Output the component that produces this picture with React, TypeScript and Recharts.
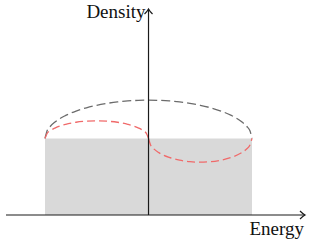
import {
  Area,
  ComposedChart,
  Line,
  ReferenceDot,
  ReferenceLine,
  XAxis,
  YAxis,
} from "recharts";

// energy axis: band edges at -1 and 1, density 1 = flat band top
const X_MIN = -1.377;
const X_MAX = 1.512;
const Y_MAX = 2.69;

const bandEnergy = [-1, 1];
const bandDensity = [1, 1];

const fullEnergy = [
  -1, -0.98, -0.95, -0.9, -0.8, -0.7, -0.6, -0.5, -0.4, -0.3, -0.2, -0.1, 0,
  0.1, 0.2, 0.3, 0.4, 0.5, 0.6, 0.7, 0.8, 0.9, 0.95, 0.98, 1,
];
const fullDensity = [
  1.0, 1.1, 1.156, 1.218, 1.3, 1.357, 1.4, 1.433, 1.458, 1.477, 1.49, 1.497,
  1.5, 1.497, 1.49, 1.477, 1.458, 1.433, 1.4, 1.357, 1.3, 1.218, 1.156, 1.1,
  1.0,
];

const leftEnergy = [
  -1, -0.98, -0.95, -0.9, -0.8, -0.7, -0.6, -0.5, -0.4, -0.3, -0.2, -0.1,
  -0.05, -0.02, 0,
];
const leftDensity = [
  1.0, 1.064, 1.1, 1.138, 1.184, 1.211, 1.225, 1.23, 1.225, 1.211, 1.184,
  1.138, 1.1, 1.064, 1.0,
];

const rightEnergy = [
  0, 0.02, 0.05, 0.1, 0.2, 0.3, 0.4, 0.5, 0.6, 0.7, 0.8, 0.9, 0.95, 0.98, 1,
];
const rightDensity = [
  1.0, 0.913, 0.865, 0.814, 0.752, 0.716, 0.696, 0.69, 0.696, 0.716, 0.752,
  0.814, 0.865, 0.913, 1.0,
];

const zip = (es: number[], ds: number[]) =>
  es.map((e, i) => ({ e, d: ds[i] }));

const band = zip(bandEnergy, bandDensity);
const full = zip(fullEnergy, fullDensity);
const left = zip(leftEnergy, leftDensity);
const right = zip(rightEnergy, rightDensity);

const labelStyle = {
  fontFamily: '"Liberation Serif", "DejaVu Serif", serif',
  fontSize: 19,
};
const AXIS = "#1a1a1a";

function ArrowUp({ cx, cy }: any) {
  return (
    <g>
      <path
        d={`M${cx - 4},${cy + 5} Q${cx - 1},${cy + 2} ${cx},${cy} Q${cx + 1},${cy + 2} ${cx + 4},${cy + 5}`}
        fill="none"
        stroke={AXIS}
        strokeWidth={1.2}
      />
      <text
        x={cx - 3}
        y={cy + 9}
        textAnchor="end"
        style={labelStyle}
        fill="#111"
      >
        Density
      </text>
    </g>
  );
}

function ArrowRight({ cx, cy }: any) {
  return (
    <g>
      <path
        d={`M${cx - 5},${cy - 4} Q${cx - 2},${cy - 1} ${cx},${cy} Q${cx - 2},${cy + 1} ${cx - 5},${cy + 4}`}
        fill="none"
        stroke={AXIS}
        strokeWidth={1.2}
      />
      <text
        x={cx - 1}
        y={cy + 20}
        textAnchor="end"
        style={labelStyle}
        fill="#111"
      >
        Energy
      </text>
    </g>
  );
}

export default function App() {
  return (
    <div style={{ position: "absolute", left: 0, top: 0 }}>
      <ComposedChart
        width={312}
        height={245}
        margin={{ top: 9, right: 7, bottom: 30, left: 6 }}
      >
        <XAxis
          type="number"
          dataKey="e"
          domain={[X_MIN, X_MAX]}
          allowDataOverflow
          hide
        />
        <YAxis type="number" domain={[0, Y_MAX]} allowDataOverflow hide />
        <Area
          data={band}
          dataKey="d"
          type="linear"
          fill="#d9d9d9"
          fillOpacity={1}
          stroke="none"
          isAnimationActive={false}
        />
        <Line
          data={full}
          dataKey="d"
          type="monotone"
          stroke="#6b6b6b"
          strokeWidth={1.3}
          strokeDasharray="9 4"
          dot={false}
          isAnimationActive={false}
        />
        <Line
          data={left}
          dataKey="d"
          type="monotone"
          stroke="#f06a6a"
          strokeWidth={1.3}
          strokeDasharray="8 4"
          dot={false}
          isAnimationActive={false}
        />
        <Line
          data={right}
          dataKey="d"
          type="monotone"
          stroke="#f06a6a"
          strokeWidth={1.3}
          strokeDasharray="8 4"
          dot={false}
          isAnimationActive={false}
        />
        <ReferenceLine y={0} stroke={AXIS} strokeWidth={1.2} />
        <ReferenceLine x={0} stroke={AXIS} strokeWidth={1.2} />
        <ReferenceDot x={0} y={Y_MAX} shape={ArrowUp} />
        <ReferenceDot x={X_MAX} y={0} shape={ArrowRight} />
      </ComposedChart>
    </div>
  );
}
